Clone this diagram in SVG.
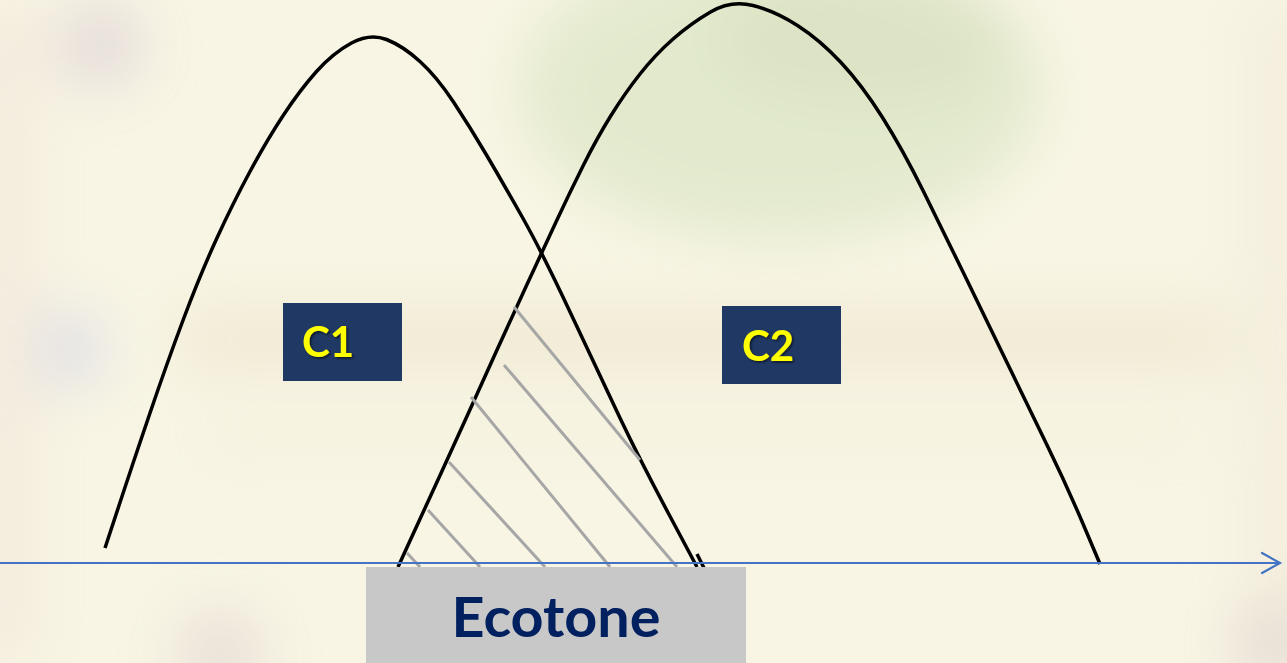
<svg xmlns="http://www.w3.org/2000/svg" width="1287" height="663" viewBox="0 0 1287 663">
  <style>
    .curve { fill: none; stroke: #000000; stroke-width: 3.5; stroke-linecap: butt; stroke-linejoin: round; }
    .hatch { stroke: #A6A6A6; stroke-width: 3; stroke-linecap: butt; }
    .axis { fill: none; stroke: #4472C4; stroke-width: 2.2; stroke-linecap: round; stroke-linejoin: miter; }
    .cbox { fill: #203864; }
    .clabel { font-family: Lato, "Open Sans", "Liberation Sans", sans-serif; font-weight: bold; font-size: 42px; fill: #FFFF00; }
    .elabel { font-family: Lato, "Open Sans", "Liberation Sans", sans-serif; font-weight: bold; font-size: 56px; fill: #002060; }
  </style>
  <defs>
    <filter id="soft" filterUnits="userSpaceOnUse" x="-100" y="-100" width="1487" height="863">
      <feGaussianBlur stdDeviation="28"/>
    </filter>
    <filter id="shadow" x="-20%" y="-20%" width="140%" height="140%">
      <feDropShadow dx="1.5" dy="1.5" stdDeviation="1" flood-color="#000000" flood-opacity="0.6"/>
    </filter>
  </defs>

  <g id="background">
    <rect x="0" y="0" width="1287" height="663" fill="#F8F5E4"/>
    <g filter="url(#soft)" opacity="0.75">
      <ellipse cx="780" cy="90" rx="260" ry="150" fill="#DCE6C6"/>
      <ellipse cx="860" cy="40" rx="150" ry="70" fill="#D4DFBC"/>
      <rect x="180" y="310" width="1050" height="60" fill="#EEE6CF"/>
      <rect x="200" y="428" width="1000" height="16" fill="#EEE8D4"/>
      <circle cx="65" cy="350" r="42" fill="#DADAE6"/>
      <circle cx="100" cy="45" r="45" fill="#DFD5D8"/>
      <rect x="-40" y="0" width="80" height="663" fill="#F3E9DC"/>
      <rect x="1245" y="0" width="80" height="663" fill="#F3ECDB"/>
      <circle cx="1275" cy="645" r="45" fill="#E2D6D0"/>
      <circle cx="220" cy="655" r="45" fill="#E4D9D4"/>
    </g>
  </g>

  <g id="curves">
    <path id="curve-c1" class="curve" d="M105,548 L119,505.5 Q133,463 150,413 Q167,363 183.5,319 Q200,275 216.5,239 Q233,203 250,171.5 Q267,140 283.5,115 Q300,90 316.5,71.5 Q333,53 351.5,43 Q370,33 386.5,39.5 Q403,46 420,61.5 Q437,77 453.5,102 Q470,127 486.5,155 Q503,183 522.5,217.5 Q542,252 571,314 Q600,376 620,418 Q640,460 668.5,513.5 L697,567"/>
    <path id="curve-c2" class="curve" d="M398,567 L411.5,537.5 Q425,508 439.5,476.5 Q454,445 468,414 Q482,383 496.5,351 Q511,319 526.5,285.5 Q542,252 556,222 Q570,192 583.5,165 Q597,138 611,115.5 Q625,93 640,74 Q655,55 672.5,39.5 Q690,24 710.5,12 Q731,0 753,5.5 Q775,11 797.5,25.5 Q820,40 841,62.5 Q862,85 882.5,117.5 Q903,150 923.5,191.5 Q944,233 964.5,275 Q985,317 1005.5,359.5 Q1026,402 1046.5,444 Q1067,486 1083.5,525 L1100,564"/>
    <line class="curve" x1="697" y1="554" x2="704" y2="568"/>
  </g>

  <g id="hatching">
    <line class="hatch" x1="514" y1="307" x2="640" y2="460"/>
    <line class="hatch" x1="504" y1="365" x2="677" y2="567"/>
    <line class="hatch" x1="471" y1="397" x2="610" y2="567"/>
    <line class="hatch" x1="449" y1="462" x2="545" y2="567"/>
    <line class="hatch" x1="428" y1="510" x2="480" y2="567"/>
    <line class="hatch" x1="407" y1="553" x2="420" y2="567"/>
  </g>

  <g id="connectors">
    <line class="axis" x1="0" y1="563" x2="1279" y2="563"/>
    <polyline class="axis" points="1262,553 1280,563 1262,573"/>
  </g>

  <g id="node-c1">
    <rect class="cbox" x="283" y="303" width="119" height="78"/>
    <text class="clabel" x="302" y="357" filter="url(#shadow)">C1</text>
  </g>

  <g id="node-c2">
    <rect class="cbox" x="722" y="306" width="119" height="78"/>
    <text class="clabel" x="742" y="361" filter="url(#shadow)">C2</text>
  </g>

  <g id="node-ecotone">
    <rect x="366" y="567" width="380" height="96" fill="#C8C8C8"/>
    <text class="elabel" x="556" y="637" text-anchor="middle" textLength="209" lengthAdjust="spacingAndGlyphs">Ecotone</text>
  </g>
</svg>
